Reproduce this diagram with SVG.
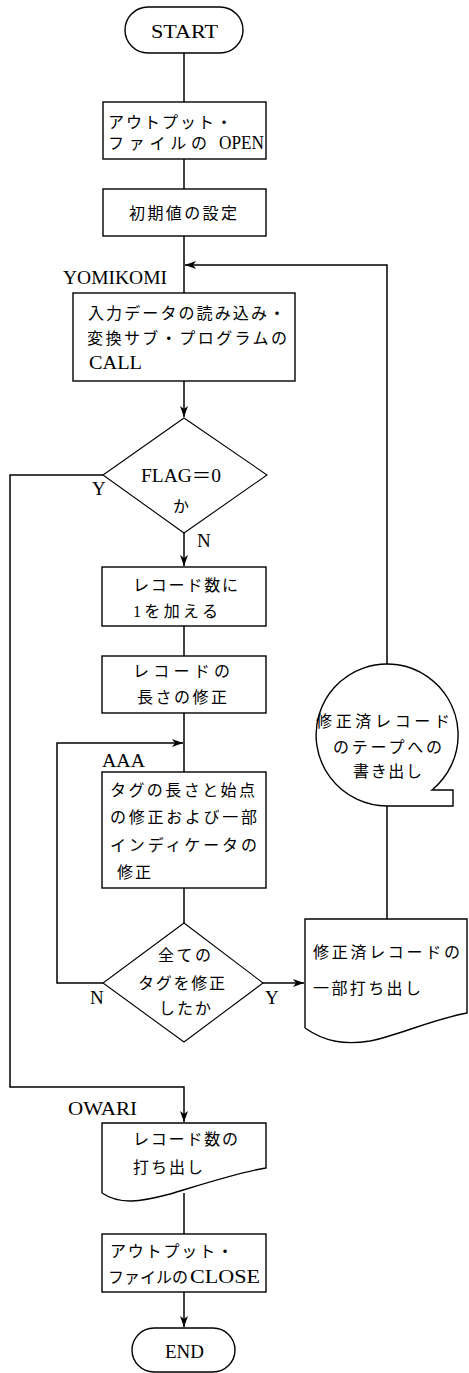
<svg xmlns="http://www.w3.org/2000/svg" width="469" height="1373" viewBox="0 0 469 1373">
<style>
.s{fill:none;stroke:#000;stroke-width:1.4}
.d{fill:none;stroke:#000;stroke-width:1.1}
.c{fill:none;stroke:#000;stroke-width:1.5}
text{font-family:"Liberation Serif","Noto Sans CJK JP",serif;font-size:16px;fill:#000}
.l{font-size:19px}
.m{font-size:18px}
</style>
<defs>
<marker id="ah" markerUnits="userSpaceOnUse" markerWidth="12" markerHeight="10" refX="11" refY="4" orient="auto">
<path d="M0,0 L11,4 L0,8 L3,4 Z" fill="#000"/>
</marker>
</defs>
<rect width="469" height="1373" fill="#fff"/>

<g id="connectors">
<line class="c" x1="184" y1="53" x2="184" y2="102"/>
<line class="c" x1="184" y1="159" x2="184" y2="189"/>
<line class="c" x1="184" y1="236" x2="184" y2="293"/>
<polyline class="c" points="387,664 387,265 185,265" marker-end="url(#ah)"/>
<line class="c" x1="184" y1="381" x2="184" y2="417" marker-end="url(#ah)"/>
<line class="c" x1="184" y1="533" x2="184" y2="566" marker-end="url(#ah)"/>
<polyline class="c" points="103,475 10,475 10,1087 184,1087 184,1122" marker-end="url(#ah)"/>
<line class="c" x1="184" y1="626" x2="184" y2="656"/>
<line class="c" x1="184" y1="713" x2="184" y2="772"/>
<polyline class="c" points="103,983 57,983 57,743 183,743" marker-end="url(#ah)"/>
<line class="c" x1="184" y1="888" x2="184" y2="923"/>
<line class="c" x1="263" y1="983" x2="304" y2="983" marker-end="url(#ah)"/>
<line class="c" x1="387" y1="806" x2="387" y2="919"/>
<line class="c" x1="184" y1="1193" x2="184" y2="1234"/>
<line class="c" x1="184" y1="1292" x2="184" y2="1327" marker-end="url(#ah)"/>
<text class="l" x="92" y="495">Y</text>
<text class="l" x="197" y="547">N</text>
<text class="l" x="90" y="1004">N</text>
<text class="l" x="265" y="1004">Y</text>
</g>

<g id="start">
<rect class="s" x="125" y="7" width="118" height="46" rx="23"/>
<text class="l" x="151" y="38" textLength="67" lengthAdjust="spacingAndGlyphs">START</text>
</g>

<g id="open">
<rect class="s" x="103" y="102" width="163" height="57"/>
<text x="108" y="128" textLength="124" lengthAdjust="spacing">アウトプット・</text>
<text x="108" y="149" textLength="99" lengthAdjust="spacing">ファイルの</text>
<text class="m" x="219" y="149" textLength="45" lengthAdjust="spacingAndGlyphs">OPEN</text>
</g>

<g id="init">
<rect class="s" x="103" y="189" width="163" height="47"/>
<text x="129" y="219" textLength="108" lengthAdjust="spacing">初期値の設定</text>
</g>

<g id="yomikomi">
<text class="l" x="63" y="284" textLength="104" lengthAdjust="spacingAndGlyphs">YOMIKOMI</text>
<rect class="s" x="73" y="293" width="222" height="88"/>
<text x="88" y="319" textLength="197" lengthAdjust="spacing">入力データの読み込み・</text>
<text x="87" y="344" textLength="200" lengthAdjust="spacing">変換サブ・プログラムの</text>
<text class="l" x="89" y="369" textLength="53" lengthAdjust="spacingAndGlyphs">CALL</text>
</g>

<g id="flag">
<polygon class="d" points="184,418 267,475 184,533 103,475"/>
<text class="m" x="141" y="482" textLength="80" lengthAdjust="spacingAndGlyphs">FLAG＝0</text>
<text x="181" y="512" text-anchor="middle">か</text>
</g>

<g id="count">
<rect class="s" x="102" y="567" width="164" height="59"/>
<text x="133" y="591" textLength="105" lengthAdjust="spacing">レコード数に</text>
<text x="133" y="617" textLength="85" lengthAdjust="spacing">1を加える</text>
</g>

<g id="length">
<rect class="s" x="102" y="656" width="164" height="57"/>
<text x="133" y="677" textLength="97" lengthAdjust="spacing">レコードの</text>
<text x="137" y="703" textLength="90" lengthAdjust="spacing">長さの修正</text>
</g>

<g id="aaa">
<text class="l" x="102" y="767" textLength="43" lengthAdjust="spacingAndGlyphs">AAA</text>
<rect class="s" x="102" y="772" width="164" height="116"/>
<text x="110" y="796" textLength="145" lengthAdjust="spacing">タグの長さと始点</text>
<text x="110" y="823" textLength="147" lengthAdjust="spacing">の修正および一部</text>
<text x="110" y="851" textLength="147" lengthAdjust="spacing">インディケータの</text>
<text x="117" y="878" textLength="34" lengthAdjust="spacing">修正</text>
</g>

<g id="alltags">
<polygon class="d" points="184,923 263,983 184,1042 103,983"/>
<text x="158" y="961" textLength="53" lengthAdjust="spacing">全ての</text>
<text x="138" y="989" textLength="87" lengthAdjust="spacing">タグを修正</text>
<text x="159" y="1014" textLength="52" lengthAdjust="spacing">したか</text>
</g>

<g id="print-partial">
<path class="s" d="M305,1028 L305,919 L467,919 L467,1013 C430,1020 400,1035 370,1041 C345,1045 325,1042 305,1028"/>
<text x="313" y="958" textLength="147" lengthAdjust="spacing">修正済レコードの</text>
<text x="313" y="994" textLength="108" lengthAdjust="spacing">一部打ち出し</text>
</g>

<g id="tape">
<path class="s" d="M432,790 A71,71 0 1 0 387,806 L453,806 L453,790 Z"/>
<text x="316" y="727" textLength="134" lengthAdjust="spacing">修正済レコード</text>
<text x="333" y="753" textLength="109" lengthAdjust="spacing">のテープへの</text>
<text x="353" y="777" textLength="69" lengthAdjust="spacing">書き出し</text>
</g>

<g id="owari">
<text class="l" x="68" y="1115" textLength="69" lengthAdjust="spacingAndGlyphs">OWARI</text>
<path class="s" d="M102,1193 L102,1123 L266,1123 L266,1168 C240,1172 200,1185 170,1194 C140,1202 120,1205 102,1193"/>
<text x="133" y="1145" textLength="105" lengthAdjust="spacing">レコード数の</text>
<text x="133" y="1173" textLength="70" lengthAdjust="spacing">打ち出し</text>
</g>

<g id="close">
<rect class="s" x="102" y="1234" width="164" height="58"/>
<text x="110" y="1257" textLength="123" lengthAdjust="spacing">アウトプット・</text>
<text x="108" y="1283" textLength="80" lengthAdjust="spacing">ファイルの</text>
<text class="m" x="190" y="1283" textLength="70" lengthAdjust="spacingAndGlyphs">CLOSE</text>
</g>

<g id="end">
<rect class="s" x="132" y="1328" width="103" height="44" rx="22"/>
<text class="l" x="165" y="1358" textLength="39" lengthAdjust="spacingAndGlyphs">END</text>
</g>
</svg>
